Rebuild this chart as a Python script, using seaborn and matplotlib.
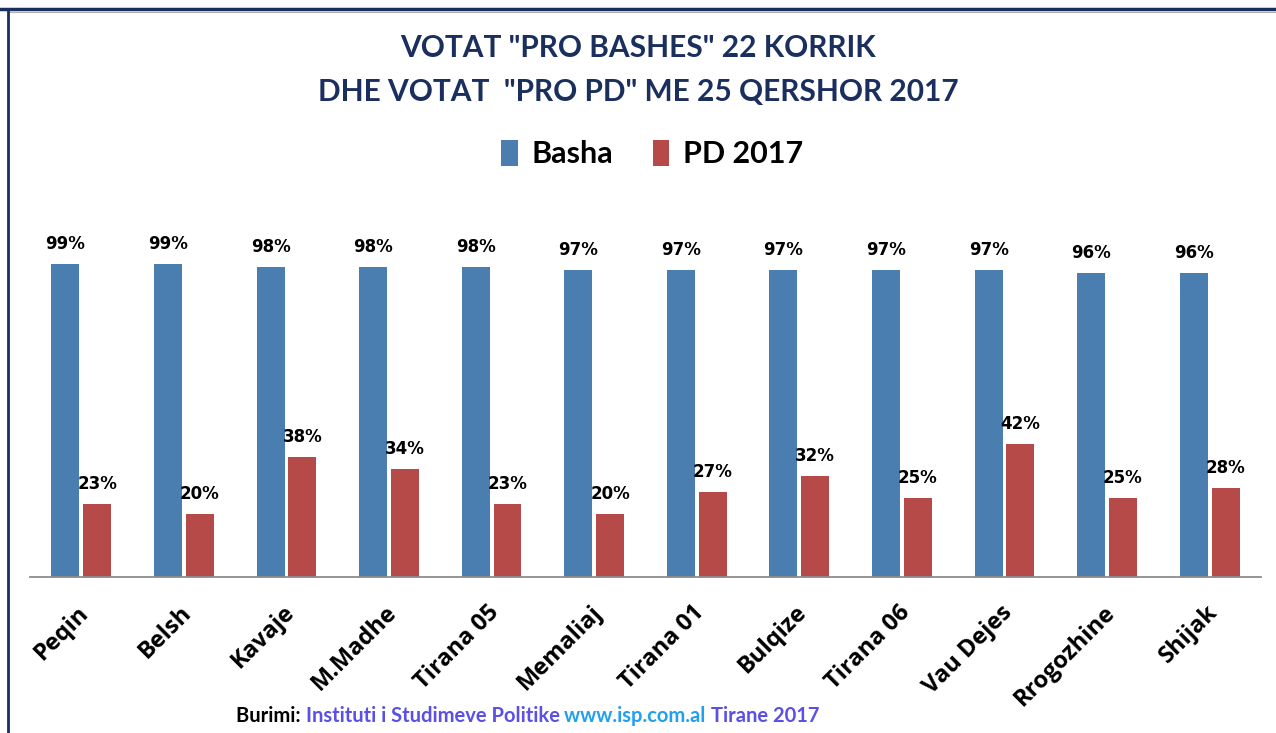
import numpy as np
import pandas as pd
import seaborn as sns
import matplotlib.pyplot as plt
from matplotlib.lines import Line2D
from matplotlib.transforms import ScaledTranslation

# data
places = ["Peqin", "Belsh", "Kavaje", "M.Madhe", "Tirana 05", "Memaliaj",
          "Tirana 01", "Bulqize", "Tirana 06", "Vau Dejes", "Rrogozhine", "Shijak"]
basha = [99, 99, 98, 98, 98, 97, 97, 97, 97, 97, 96, 96]
pd2017 = [23, 20, 38, 34, 23, 20, 27, 32, 25, 42, 25, 28]
series_names = ["Basha", "PD 2017"]
colors = ["#4A7EB0", "#B64A48"]

df = pd.DataFrame({"place": places * 2,
                   "seria": [series_names[0]] * len(places) + [series_names[1]] * len(places),
                   "vlera": basha + pd2017})

navy = "#1B2F5E"
narrow = ["Lato", "DejaVu Sans"]

fig = plt.figure(figsize=(12.76, 7.33), dpi=100)
ax = fig.add_axes([0.0235, 0.2128, 0.9647, 0.494])

sns.barplot(data=df, x="place", y="vlera", hue="seria", palette=colors,
            width=0.62, gap=0.12, ax=ax, saturation=1, legend=True)

for cont in ax.containers:
    ax.bar_label(cont, fmt="%d%%", padding=8, fontsize=12, fontweight="bold",
                 family="DejaVu Sans", color="black")

ax.set_ylim(0, 114.5)
ax.set_xlim(-0.5, len(places) - 0.5)
ax.set_xlabel("")
ax.set_ylabel("")
ax.set_yticks([])
for s in ["top", "right", "left"]:
    ax.spines[s].set_visible(False)
ax.spines["bottom"].set_color("#8C8C8C")
ax.spines["bottom"].set_linewidth(1.3)
ax.tick_params(axis="x", length=0, pad=17)
shift = ScaledTranslation(-3 / 72, 0, fig.dpi_scale_trans)
for lab in ax.get_xticklabels():
    lab.set_rotation(45)
    lab.set_ha("right")
    lab.set_rotation_mode("anchor")
    lab.set_fontsize(17)
    lab.set_fontweight("bold")
    lab.set_family("Open Sans")
    lab.set_transform(lab.get_transform() + shift)

# legend at the top
handles, labels = ax.get_legend_handles_labels()
ax.legend(handles, labels, loc="center", bbox_to_anchor=(0.511, 0.79),
          bbox_transform=fig.transFigure, ncol=2, frameon=False,
          handlelength=0.55, handleheight=0.95, handletextpad=0.45, columnspacing=1.3,
          prop={"family": narrow, "weight": "bold", "size": 22})

# title
fig.text(0.5, 0.935, 'VOTAT "PRO BASHES" 22 KORRIK', ha="center", va="center",
         fontsize=21.5, fontweight="bold", family=narrow, color=navy)
fig.text(0.5, 0.874, 'DHE VOTAT  "PRO PD" ME 25 QERSHOR 2017', ha="center", va="center",
         fontsize=21.5, fontweight="bold", family=narrow, color=navy)

# source line, pieces chained one after another
src_parts = [("Burimi: ", "black"), ("Instituti i Studimeve Politike ", "#5A4FE6"),
             ("www.isp.com.al ", "#22A0F0"), ("Tirane 2017", "#5A4FE6")]
prev = fig.text(236 / 1276, 7 / 733, src_parts[0][0], color=src_parts[0][1], fontsize=14.5,
                fontweight="bold", family=narrow, va="bottom")
for txt, col in src_parts[1:]:
    prev = ax.annotate(txt, xy=(1, 0), xycoords=prev, va="bottom", ha="left",
                       color=col, fontsize=14.5, fontweight="bold", family=narrow,
                       annotation_clip=False)

# frame lines
fig.add_artist(Line2D([0, 1], [1 - 9 / 733, 1 - 9 / 733], color=navy, lw=2.5,
                      transform=fig.transFigure))
fig.add_artist(Line2D([0.008, 1], [1 - 12 / 733, 1 - 12 / 733], color="#B0B0B0", lw=0.8,
                      transform=fig.transFigure))
fig.add_artist(Line2D([8 / 1276, 8 / 1276], [0, 1 - 9 / 733], color=navy, lw=2,
                      transform=fig.transFigure))

fig.savefig("out.png", dpi=100)
